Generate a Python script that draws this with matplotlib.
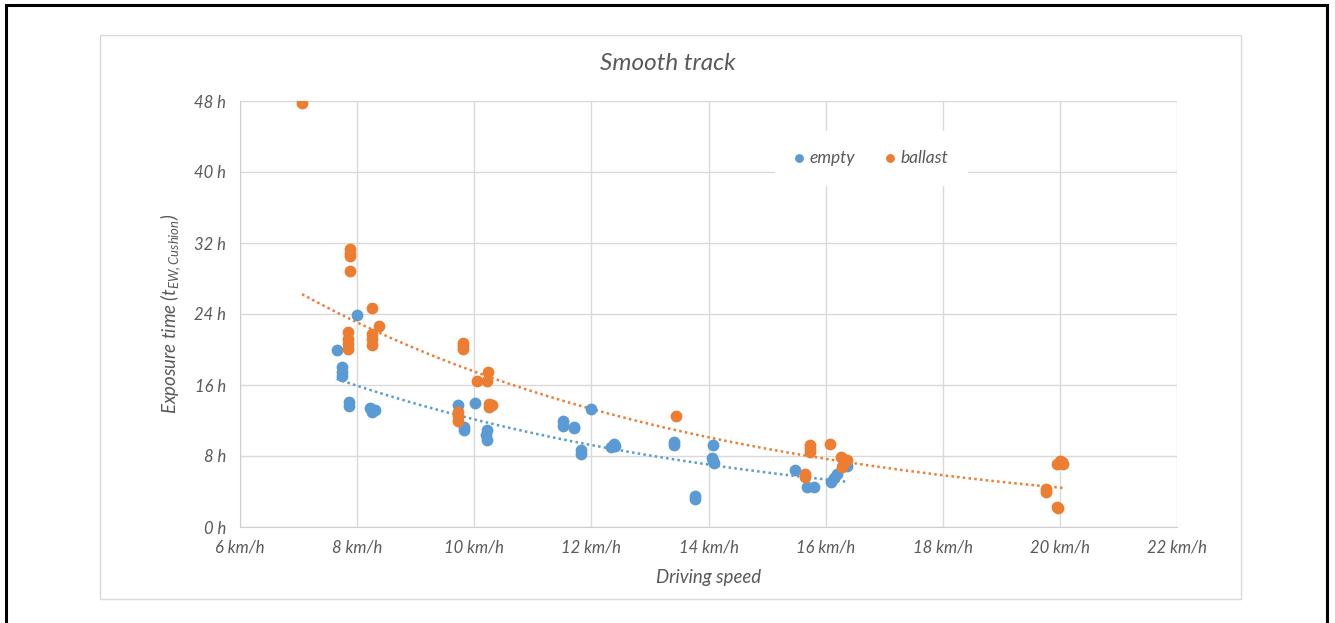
import matplotlib
matplotlib.use('Agg')

import matplotlib.pyplot as plt
import matplotlib.patches as patches
import numpy as np

# Data (speed in km/h, exposure time in h)
empty_speed = [7.65, 7.75, 7.75, 7.75, 7.86, 7.86, 8.0, 8.22, 8.25, 8.3,
               9.72, 9.83, 9.83, 10.01, 10.21, 10.2, 10.22,
               11.51, 11.51, 11.70, 11.70, 12.0, 11.82, 11.82,
               12.33, 12.38, 12.4, 13.41, 13.41, 13.77, 13.77,
               14.07, 14.06, 14.08, 14.1, 15.48, 15.69, 15.80,
               16.10, 16.15, 16.2, 16.36]
empty_time = [19.9, 18.0, 17.5, 17.0, 14.1, 13.6, 23.9, 13.4, 13.0, 13.2,
              13.75, 11.3, 10.9, 14.0, 10.9, 10.4, 9.8,
              11.9, 11.4, 11.3, 11.1, 13.3, 8.7, 8.2,
              9.0, 9.3, 9.1, 9.6, 9.2, 3.5, 3.2,
              9.2, 7.8, 7.4, 7.2, 6.4, 4.5, 4.5,
              5.1, 5.5, 6.0, 6.9]

ballast_speed = [7.06, 7.87, 7.87, 7.87, 7.87, 7.85, 7.85, 7.85, 7.85,
                 8.25, 8.25, 8.25, 8.25, 8.38,
                 9.73, 9.73, 9.73, 9.80, 9.80, 9.80,
                 10.04, 10.22, 10.24, 10.26, 10.3, 10.25,
                 13.45, 15.65, 15.65, 15.74, 15.74, 15.74, 16.07,
                 16.27, 16.33, 16.3, 16.36, 16.28,
                 19.76, 19.76, 19.95, 19.97, 19.95, 20.0, 20.05, 20.03]
ballast_time = [47.8, 31.3, 30.9, 30.5, 28.8, 22.0, 21.2, 20.6, 20.1,
                24.7, 21.8, 21.2, 20.5, 22.7,
                13.0, 12.5, 11.9, 20.7, 20.4, 20.1,
                16.4, 16.5, 17.5, 13.9, 13.7, 13.5,
                12.5, 6.0, 5.6, 9.2, 8.8, 8.5, 9.4,
                7.9, 7.5, 7.0, 7.6, 6.8,
                4.3, 4.0, 2.2, 2.1, 7.1, 7.4, 7.1, 7.3]

x_ticks = [6, 8, 10, 12, 14, 16, 18, 20, 22]
y_ticks = [0, 8, 16, 24, 32, 40, 48]

blue = '#5B9BD5'
orange = '#ED7D31'
text_col = '#595959'

plt.rcParams['font.family'] = ['Lato', 'DejaVu Sans']
plt.rcParams['mathtext.fontset'] = 'custom'
plt.rcParams['mathtext.it'] = 'Lato:italic'
plt.rcParams['mathtext.rm'] = 'Lato:italic'


def exp_trend(x, y):
    # Excel style exponential trendline: least squares on ln(y)
    x = np.asarray(x)
    b, a = np.polyfit(x, np.log(y), 1)
    xs = np.linspace(x.min(), x.max(), 100)
    return xs, np.exp(a) * np.exp(b * xs)


fig = plt.figure(figsize=(13.35, 6.23), dpi=100)
ax = fig.add_axes([240 / 1335, 1 - 527 / 623, (1177 - 240) / 1335, (527 - 101) / 623])

ax.scatter(empty_speed, empty_time, s=72, color=blue, label='empty', zorder=3, linewidths=0)
ax.scatter(ballast_speed, ballast_time, s=72, color=orange, label='ballast', zorder=3, linewidths=0)

tx, ty = exp_trend(empty_speed, empty_time)
ax.plot(tx, ty, color=blue, lw=1.8, linestyle=(0, (1, 1.3)), zorder=2)
tx, ty = exp_trend(ballast_speed, ballast_time)
ax.plot(tx, ty, color=orange, lw=1.8, linestyle=(0, (1, 1.3)), zorder=2)

ax.set_xlim(6, 22)
ax.set_ylim(0, 48)
ax.set_xticks(x_ticks)
ax.set_yticks(y_ticks)
ax.set_xticklabels([f'{v} km/h' for v in x_ticks])
ax.set_yticklabels([f'{v} h' for v in y_ticks])
ax.tick_params(length=0, labelsize=12, labelcolor=text_col)
ax.tick_params(axis='y', pad=10)
ax.tick_params(axis='x', pad=9)
for lab in ax.get_xticklabels() + ax.get_yticklabels():
    lab.set_fontstyle('italic')

ax.grid(True, color='#d9d9d9', lw=1)
ax.set_axisbelow(True)
for s in ['top', 'right']:
    ax.spines[s].set_visible(False)
for s in ['left', 'bottom']:
    ax.spines[s].set_color('#cfcfcf')

ax.set_xlabel('Driving speed', fontsize=13.4, color=text_col, style='italic', labelpad=10)
ax.set_ylabel(r'Exposure time ($t_{EW,Cushion}$)', fontsize=13.4, color=text_col,
              style='italic', labelpad=8)

fig.text(668 / 1335, 1 - 64 / 623, 'Smooth track', fontsize=17.5, color=text_col,
         style='italic', ha='center', va='center')

leg = ax.legend(loc='center', bbox_to_anchor=(871 / 1335, 1 - 158 / 623),
                bbox_transform=fig.transFigure, ncol=2, frameon=True,
                fontsize=12.5, handlelength=0.6, handletextpad=0.3, columnspacing=1.7,
                borderpad=1.1, markerscale=0.75, fancybox=False)
leg.get_frame().set_facecolor('white')
leg.get_frame().set_edgecolor('white')
leg.get_frame().set_alpha(1)
leg.set_zorder(5)
for t in leg.get_texts():
    t.set_color(text_col)
    t.set_fontstyle('italic')

# chart area border and outer frame
fig.patches.append(patches.Rectangle((100 / 1335, 1 - 599 / 623), 1141 / 1335, 564 / 623,
                                     transform=fig.transFigure, fill=False,
                                     edgecolor='#d9d9d9', lw=1))
fig.patches.append(patches.Rectangle((6 / 1335, -0.05), 1321 / 1335, 1 - 5 / 623 + 0.05,
                                     transform=fig.transFigure, fill=False,
                                     edgecolor='black', lw=2.2))

plt.savefig('out.png', dpi=100)
